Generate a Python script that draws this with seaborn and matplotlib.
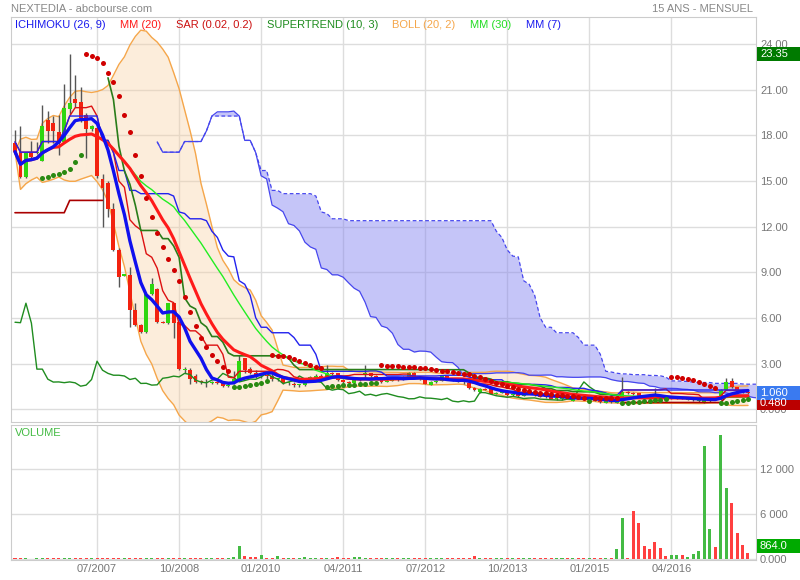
import numpy as np
import pandas as pd
import matplotlib
matplotlib.use("Agg")
import matplotlib.pyplot as plt
from matplotlib.patches import Rectangle
import seaborn as sns

# monthly candles, April 2006 -> June 2017
opens = [
    17.48, 16.93, 15.24, 16.93, 16.85, 16.33, 19.0, 18.85, 18.24, 17.56,
    19.71, 20.37, 20.19, 19.34, 18.4, 18.46, 15.11, 14.89, 13.2, 10.46,
    8.8, 8.82, 6.52, 5.54, 5.08, 7.57, 7.9, 5.73, 5.67, 6.98,
    5.73, 2.62, 2.58, 2.2, 1.83, 1.75, 1.71, 1.8, 1.81, 1.55,
    1.75, 1.93, 3.35, 2.63, 2.4, 2.2, 2.25, 2.19, 2.0, 2.04,
    1.71, 1.7, 1.6, 1.6, 2.05, 2.1, 2.19, 2.14, 2.37, 2.37,
    1.95, 1.8, 1.75, 1.93, 2.35, 2.37, 2.2, 2.1, 1.81, 1.9,
    2.0, 2.0, 2.14, 2.4, 2.14, 2.0, 1.64, 1.81, 1.9, 2.2,
    2.0, 1.9, 1.85, 1.71, 1.4, 1.14, 1.34, 1.33, 1.04, 1.1,
    1.22, 0.94, 1.0, 0.9, 1.02, 1.05, 1.0, 0.85, 0.9, 0.7,
    0.66, 0.83, 0.55, 0.74, 0.7, 0.65, 0.74, 0.55, 0.43, 0.57,
    0.45, 0.55, 1.12, 1.1, 1.05, 0.9, 0.88, 0.88, 0.86, 0.8,
    0.7, 0.72, 0.76, 0.62, 0.6, 0.55, 0.45, 0.55, 0.72, 0.66,
    1.27, 1.86, 1.45, 1.25, 1.16]
highs = [
    18.35, 18.6, 16.9, 17.65, 17.58, 20.0, 19.6, 19.3, 19.33, 21.4,
    23.35, 21.96, 21.15, 19.5, 18.7, 18.6, 15.46, 15.0, 13.55, 10.6,
    8.9, 9.35, 6.98, 5.6, 7.6, 8.63, 8.0, 5.8, 7.0, 7.0,
    5.8, 2.8, 2.7, 2.3, 1.95, 2.0, 1.9, 1.85, 1.9, 1.75,
    2.5, 3.57, 3.4, 2.8, 2.6, 2.4, 2.35, 2.3, 2.1, 2.1,
    1.8, 1.8, 1.7, 2.1, 2.2, 2.3, 2.3, 2.9, 2.45, 2.4,
    2.0, 1.85, 2.0, 2.1, 2.9, 2.4, 2.25, 2.15, 1.95, 2.05,
    2.1, 2.2, 2.45, 2.45, 2.2, 2.05, 1.9, 1.95, 2.25, 2.25,
    2.05, 1.95, 1.9, 1.75, 1.45, 1.4, 1.4, 1.35, 1.15, 1.25,
    1.25, 1.05, 1.05, 1.05, 1.1, 1.08, 1.02, 0.9, 0.92, 0.75,
    0.88, 0.85, 0.78, 0.76, 0.72, 0.78, 0.75, 0.57, 0.6, 0.58,
    0.58, 2.14, 1.2, 1.15, 1.1, 0.95, 0.9, 1.42, 0.9, 0.82,
    0.78, 0.78, 0.77, 0.7, 0.68, 0.66, 0.75, 0.75, 0.75, 1.35,
    2.1, 2.1, 1.5, 1.3, 1.2]
lows = [
    16.8, 15.2, 15.2, 16.4, 16.8, 16.3, 17.48, 17.5, 16.7, 17.5,
    19.4, 19.9, 18.9, 16.5, 18.3, 15.2, 12.0, 12.65, 10.4, 8.04,
    8.75, 5.43, 5.5, 5.0, 5.0, 7.5, 5.7, 5.65, 5.6, 4.69,
    2.6, 2.4, 1.7, 1.75, 1.7, 1.45, 1.65, 1.7, 1.5, 1.45,
    1.7, 1.9, 2.4, 2.3, 2.1, 2.1, 2.0, 1.9, 1.9, 1.65,
    1.6, 1.5, 1.5, 1.55, 1.95, 2.0, 2.05, 2.1, 2.2, 1.9,
    1.75, 1.7, 1.7, 1.85, 2.1, 2.1, 2.0, 1.75, 1.78, 1.85,
    1.9, 1.95, 2.1, 2.1, 1.95, 1.65, 1.6, 1.75, 1.85, 1.95,
    1.85, 1.8, 1.7, 1.35, 1.2, 1.1, 1.25, 1.0, 1.0, 1.05,
    0.9, 0.9, 0.85, 0.88, 1.0, 0.9, 0.82, 0.78, 0.68, 0.65,
    0.64, 0.72, 0.53, 0.68, 0.62, 0.63, 0.53, 0.45, 0.42, 0.45,
    0.44, 0.55, 1.0, 0.95, 0.88, 0.82, 0.78, 0.85, 0.75, 0.7,
    0.68, 0.7, 0.66, 0.6, 0.58, 0.52, 0.42, 0.5, 0.6, 0.65,
    1.25, 1.4, 1.2, 1.1, 1.0]
closes = [
    16.93, 15.28, 16.86, 16.56, 16.9, 18.61, 18.28, 18.31, 17.52, 19.82,
    20.1, 20.15, 19.12, 18.4, 18.6, 15.33, 14.52, 13.2, 10.46, 8.69,
    8.85, 6.52, 5.54, 5.08, 7.57, 8.22, 5.73, 5.7, 6.98, 5.67,
    2.65, 2.65, 1.99, 1.8, 1.81, 1.76, 1.81, 1.75, 1.53, 1.6,
    1.97, 3.17, 2.58, 2.37, 2.25, 2.25, 2.2, 1.97, 2.05, 1.71,
    1.72, 1.6, 1.62, 2.05, 2.1, 2.19, 2.14, 2.37, 2.3, 1.93,
    1.8, 1.75, 1.93, 2.0, 2.37, 2.2, 2.1, 1.81, 1.9, 2.0,
    1.98, 2.14, 2.37, 2.14, 2.0, 1.7, 1.81, 1.9, 2.2, 2.0,
    1.9, 1.85, 1.78, 1.38, 1.27, 1.34, 1.3, 1.04, 1.1, 1.2,
    0.94, 1.0, 0.9, 1.0, 1.05, 0.95, 0.85, 0.8, 0.7, 0.71,
    0.83, 0.75, 0.74, 0.7, 0.65, 0.74, 0.55, 0.5, 0.57, 0.5,
    0.55, 1.12, 1.1, 1.0, 0.9, 0.85, 0.8, 0.86, 0.8, 0.72,
    0.75, 0.76, 0.68, 0.66, 0.64, 0.62, 0.61, 0.68, 0.66, 1.27,
    1.81, 1.49, 1.25, 1.15, 1.06]
volumes = [
    150, 120, 110, 100, 180, 150, 160, 180, 150, 200,
    190, 140, 160, 170, 130, 140, 200, 130, 130, 120,
    120, 130, 130, 140, 180, 130, 130, 120, 130, 130,
    130, 130, 150, 130, 150, 140, 160, 150, 170, 190,
    250, 1773, 440, 370, 350, 573, 200, 170, 430, 150,
    150, 140, 150, 330, 140, 140, 130, 140, 150, 330,
    130, 140, 330, 300, 160, 130, 120, 130, 140, 120,
    120, 130, 160, 130, 140, 130, 130, 120, 130, 140,
    130, 130, 140, 160, 400, 140, 130, 140, 180, 220,
    130, 120, 130, 120, 120, 130, 140, 110, 110, 110,
    120, 110, 120, 110, 130, 120, 140, 130, 160, 120,
    1333, 5547, 140, 6440, 4800, 1813, 1373, 2347, 1547, 440,
    533, 533, 533, 307, 667, 1147, 15107, 4080, 1640, 16573,
    9467, 7467, 3547, 1867, 864]

tick_labels = ["07/2007", "10/2008", "01/2010", "04/2011",
               "07/2012", "10/2013", "01/2015", "04/2016"]
price_ticks = [0, 3, 6, 9, 12, 15, 18, 21, 24]
price_tick_labels = ["0.000", "3.00", "6.00", "9.00", "12.00", "15.00", "18.00", "21.00", "24.00"]
vol_ticks = [0, 6000, 12000]
vol_tick_labels = ["0.000", "6 000", "12 000"]

GREY = "#777777"
GRID = "#dddddd"

df = pd.DataFrame({"open": opens, "high": highs, "low": lows, "close": closes, "volume": volumes})
df["i"] = np.arange(len(df))
df["date"] = pd.period_range("2006-04", periods=len(df), freq="M").strftime("%m/%Y")
c, h, l = df["close"], df["high"], df["low"]

# moyennes mobiles + bollinger
df["mm7"] = c.rolling(7, min_periods=1).mean()
df["mm20"] = c.rolling(20, min_periods=1).mean()
df["mm30"] = c.rolling(30, min_periods=1).mean()
sd = c.rolling(20, min_periods=1).std(ddof=0)
df["boll_up"] = df["mm20"] + 2 * sd
df["boll_dn"] = df["mm20"] - 2 * sd


# ichimoku (26, 9)
def mid(n):
    return (h.rolling(n, min_periods=1).max() + l.rolling(n, min_periods=1).min()) / 2


df["tenkan"] = mid(9)
df["kijun"] = mid(26)
cloud = pd.DataFrame({"i": df["i"] + 26, "a": (df["tenkan"] + df["kijun"]) / 2, "b": mid(52)})
chikou = pd.DataFrame({"i": df["i"] - 26, "v": c})
chikou = chikou[chikou["i"] >= 0]

# supertrend (10, 3)
tr = pd.concat([h - l, (h - c.shift()).abs(), (l - c.shift()).abs()], axis=1).max(axis=1)
atr = tr.rolling(10, min_periods=1).mean()
ub = ((h + l) / 2 + 3 * atr).values
lb = ((h + l) / 2 - 3 * atr).values
n = len(df)
fu, fl = ub.copy(), lb.copy()
up = np.ones(n, bool)
for k in range(1, n):
    fu[k] = ub[k] if (ub[k] < fu[k - 1] or closes[k - 1] > fu[k - 1]) else fu[k - 1]
    fl[k] = lb[k] if (lb[k] > fl[k - 1] or closes[k - 1] < fl[k - 1]) else fl[k - 1]
    up[k] = closes[k] >= fl[k] if up[k - 1] else closes[k] > fu[k]
st_up = np.where(up, fl, np.nan)
st_dn = np.where(~up, fu, np.nan)

# SAR parabolique (0.02, 0.2)
sar = np.zeros(n)
bull = np.ones(n, bool)
sar[0], ep, af, b = lows[0], highs[0], 0.02, True
for k in range(1, n):
    s = sar[k - 1] + af * (ep - sar[k - 1])
    if b:
        s = min(s, lows[k - 1], lows[max(k - 2, 0)])
        if lows[k] < s:
            b, s, ep, af = False, ep, lows[k], 0.02
        elif highs[k] > ep:
            ep, af = highs[k], min(af + 0.02, 0.2)
    else:
        s = max(s, highs[k - 1], highs[max(k - 2, 0)])
        if highs[k] > s:
            b, s, ep, af = True, ep, highs[k], 0.02
        elif lows[k] < ep:
            ep, af = lows[k], min(af + 0.02, 0.2)
    sar[k], bull[k] = s, b
df["sar"] = sar
df["bull"] = bull
sar_df = df.iloc[5:]  # warm-up months not shown on the site

# ---- figure ----
sns.set_style("white")
plt.rcParams["font.family"] = ["Liberation Sans", "DejaVu Sans"]
plt.rcParams["font.size"] = 8

W, H = 800, 580
fig = plt.figure(figsize=(8, 5.8), dpi=100)
x0, x1 = 11, 755.5
ax = fig.add_axes([x0 / W, 1 - 421.5 / H, (x1 - x0) / W, (421.5 - 17) / H])
axv = fig.add_axes([x0 / W, 1 - 559.5 / H, (x1 - x0) / W, (559.5 - 425) / H])

xmin, xmax = (x0 - 15) / 5.47, (x1 - 15) / 5.47
tick_pos = [df.index[df["date"] == t][0] for t in tick_labels]

for a in (ax, axv):
    a.set_xlim(xmin, xmax)
    a.set_xticks(tick_pos)
    a.set_axisbelow(True)
    a.grid(True, color=GRID, lw=1)
    a.yaxis.tick_right()
    a.tick_params(length=0, colors=GREY, labelsize=8, pad=3.3)
    for sp in a.spines.values():
        sp.set_color("#cccccc")

ax.set_ylim(-0.79, 25.78)
ax.set_yticks(price_ticks)
ax.set_yticklabels(price_tick_labels)
ax.set_xticklabels([])
axv.set_ylim(-27, 17907)
axv.set_yticks(vol_ticks)
axv.set_yticklabels(vol_tick_labels)
axv.set_xticklabels(tick_labels)

# bollinger + nuage
ax.fill_between(df["i"], df["boll_dn"], df["boll_up"], color="#f8d2a5", alpha=0.4, lw=0, zorder=1)
ax.fill_between(cloud["i"], cloud["a"], cloud["b"], color="#8080f0", alpha=0.45, lw=0, zorder=1.2)
sns.lineplot(data=df, x="i", y="boll_up", ax=ax, color="#f5a64a", lw=1, legend=False, zorder=2)
sns.lineplot(data=df, x="i", y="boll_dn", ax=ax, color="#f5a64a", lw=1, legend=False, zorder=2)
sns.lineplot(data=cloud, x="i", y="a", ax=ax, color="#4646ee", lw=0.9, legend=False, zorder=2)
ax.plot(cloud["i"], cloud["b"], color="#4646ee", lw=0.9, ls=(0, (3, 2)), zorder=2)

# bougies
colors = np.where(df["close"] >= df["open"], "#2fd60f", "#f2220f")
ax.vlines(df["i"], df["low"], df["high"], color="#555555", lw=1, zorder=3)
body_lo = np.minimum(df["open"], df["close"])
body_h = np.maximum(np.abs(df["close"] - df["open"]), 0.07)
ax.bar(df["i"], body_h, bottom=body_lo, width=0.72, color=colors, lw=0, zorder=3.1)

# lignes
sns.lineplot(data=chikou, x="i", y="v", ax=ax, color="#1f8c1f", lw=1, legend=False, zorder=4)
sns.lineplot(data=df, x="i", y="tenkan", ax=ax, color="#dd1111", lw=1, legend=False, zorder=4)
sns.lineplot(data=df, x="i", y="kijun", ax=ax, color="#2222ee", lw=1, legend=False, zorder=4)
ax.plot(df["i"], st_dn, color="#2a7d1a", lw=1.2, zorder=4)
ax.plot(df["i"], st_up, color="#aa0000", lw=1.2, zorder=4)
sns.lineplot(data=df, x="i", y="mm30", ax=ax, color="#22ee22", lw=1, legend=False, zorder=4.5)
sns.lineplot(data=df, x="i", y="mm20", ax=ax, color="#ff1a1a", lw=2.2, legend=False, zorder=5)
sns.lineplot(data=df, x="i", y="mm7", ax=ax, color="#1010ee", lw=2.4, legend=False, zorder=5.1)
sns.scatterplot(data=sar_df[sar_df["bull"]], x="i", y="sar", ax=ax, color="#2a8a12", s=13, lw=0, zorder=6)
sns.scatterplot(data=sar_df[~sar_df["bull"]], x="i", y="sar", ax=ax, color="#d00000", s=13, lw=0, zorder=6)

# volume
vcol = np.where(df["close"] >= df["open"], "#44bb44", "#ff4040")
axv.bar(df["i"], df["volume"], width=0.55, color=vcol, lw=0, zorder=3)

for a in (ax, axv):
    a.set_xlabel("")
    a.set_ylabel("")

# en-tete et legendes
fig.text(x0 / W, 1 - 9 / H, "NEXTEDIA - abcbourse.com", color="#888888", fontsize=8, va="center")
fig.text(753 / W, 1 - 9 / H, "15 ANS - MENSUEL", color="#888888", fontsize=8, va="center", ha="right")
legend = [("ICHIMOKU (26, 9)", 15, "#1a1aee"), ("MM (20)", 120, "#ff1a1a"),
          ("SAR (0.02, 0.2)", 176, "#cc1111"), ("SUPERTREND (10, 3)", 267, "#1f8c1f"),
          ("BOLL (20, 2)", 392, "#f5a64a"), ("MM (30)", 470, "#22dd22"), ("MM (7)", 526, "#1a1aee")]
for txt, px, col in legend:
    fig.text(px / W, 1 - 25 / H, txt, color=col, fontsize=8, va="center")
fig.text(15 / W, 1 - 433 / H, "VOLUME", color="#44bb44", fontsize=8, va="center")

# etiquettes de droite (boites de valeur)
tags = [("23.35", 54, "#007a00"), ("0.480", 403, "#bb0000"),
        ("1.060", 393, "#3a7af0"), ("864.0", 546, "#00aa00")]
for txt, py, col in tags:
    fig.patches.append(Rectangle((757 / W, 1 - (py + 7) / H), 43 / W, 14 / H,
                                 transform=fig.transFigure, fc=col, ec="none", zorder=5))
    fig.text(760 / W, 1 - py / H, txt, color="white", fontsize=8, va="center", zorder=6)

fig.savefig("out.png", dpi=100)
